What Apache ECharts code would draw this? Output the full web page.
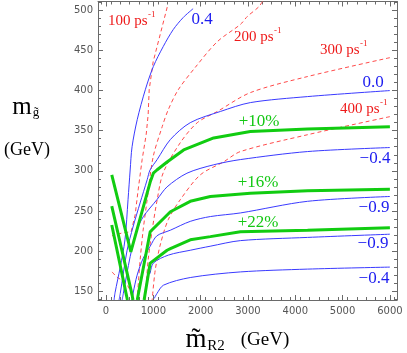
<!DOCTYPE html>
<html><head><meta charset="utf-8">
<script src="https://cdn.jsdelivr.net/npm/echarts@6/dist/echarts.min.js"></script>
<style>html,body{margin:0;padding:0;background:#fff;}#c{width:407px;height:353px;}</style>
</head><body><div id="c"></div>
<script>
// ---- tick labels ----
const xTickLabels = [0, 1000, 2000, 3000, 4000, 5000, 6000];
const yTickLabels = [150, 200, 250, 300, 350, 400, 450, 500];

// ---- blue contours (labelled 0.4, 0.0, -0.4, -0.9, -0.9, -0.4) ----
const blue04  = [[1840,502],[1630,491],[1420,476],[1210,455],[1000,430],[830,401],[660,364],[550,330],[510,301],[465,264],[400,214],[300,180],[190,148],[170,139]];
const blue00  = [[6000,400],[4260,392.5],[3050,385],[2420,374],[1780,360],[1360,339],[1080,314],[930,301],[870,289],[720,260],[570,230],[445,201],[300,147],[275,139]];
const blueM04a = [[6000,329],[4260,324],[2840,314],[2275,307.5],[1710,297],[1290,280],[1075,264],[790,243],[650,226],[510,193],[365,147],[340,139]];
const blueM09a = [[6000,268],[4260,262],[2840,247.5],[2205,243],[1780,237],[1360,226],[1075,219],[933,206],[785,191],[657,170],[572,147.5],[550,139]];
const blueM09b = [[6000,221],[4260,217],[2840,213],[2200,206],[1780,201],[1320,195],[1000,185],[933,172]];
const blueM04b = [[6000,180],[4260,177.5],[2840,174],[1780,167],[1215,157.5],[1075,147],[1020,141]];

// ---- green contours (+10%, +16%, +22%) ----
const green10  = [[6000,355],[4260,352],[3050,349],[2275,341],[1640,326],[1290,311],[1075,301],[1000,297],[933,286],[524,199],[121,295]];
const green16R = [[6000,277],[4260,275],[3050,272],[2205,268],[1780,262],[1360,249],[933,224],[685,147],[660,139]];
const green16L = [[121,256],[545,147],[570,139]];
const green22R = [[6000,229],[4260,226],[2840,224],[2205,218],[1780,214],[1360,203],[1290,201],[933,185],[827,147],[805,139]];
const green22L = [[121,232.5],[424,147],[452,139]];

// ---- red dashed contours (100, 200, 300, 400 ps^-1) ----
const red100  = [[1293,504],[1145,470],[996,436],[912,401],[890,370],[848,345],[763,314],[678,276],[615,245],[530,224],[339,222.5],[127,219]];
const red100b = [[127,174],[233,167.5],[403,161],[509,151],[551,139]];
const red200  = [[3307,511],[3222,504],[2989,492.5],[2841,482.5],[2353,461],[1887,429],[1526,401],[1314,376],[1187,355],[996,317.5],[869,264],[784,226],[721,189],[657,139]];
const red300  = [[6000,441],[4261,417.5],[3053,397.5],[2353,374],[1929,360],[1569,335],[1208,297.5],[1081,264],[975,226],[890,189],[827,139]];
const red400  = [[6000,367.5],[4261,345],[2841,324],[2480,311],[1993,295],[1569,264],[1314,239],[1145,207.5],[1039,176],[975,139]];

// ---- annotation texts ----
const blueLabels  = ['0.4', '0.0', '\u22120.4', '\u22120.9', '\u22120.9', '\u22120.4'];
const greenLabels = ['+10%', '+16%', '+22%'];
const redLabels   = ['100', '200', '300', '400'];

const X_MIN = -170, X_MAX = 6150, Y_MIN = 139, Y_MAX = 511;
const BLUE = '#3a3aff', GREEN = '#11cc11', RED = '#ff4a4a';
const BLUE_T = '#1c1cf0', GREEN_T = '#14c814', RED_T = '#ee1a1a';
const SERIF = '"Liberation Serif","Times New Roman",serif';
const SANS = '"DejaVu Sans",sans-serif';

const minorX = []; for (let v = -100; v <= 6100; v += 200) if (v % 1000 !== 0) minorX.push(v);
const minorY = []; for (let v = 140; v <= 510; v += 10) if (v % 50 !== 0) minorY.push(v);

const gridRect = {left: 98, right: 10, top: 1.5, bottom: 53};
function axis(pos, gi, min, max, ticks, len, labels, line) {
  const isX = pos === 'bottom' || pos === 'top';
  return {
    type: 'value', gridIndex: gi, position: pos, min, max,
    axisLine: {show: line, onZero: false, lineStyle: {color: '#6a6a6a', width: 1}},
    axisTick: {show: true, inside: true, length: len, customValues: ticks, lineStyle: {color: '#6a6a6a', width: 1}},
    axisLabel: labels ? {show: true, customValues: labels, margin: isX ? 6 : 5, fontSize: 10, fontFamily: SANS, color: '#555',
      formatter: v => String(v)} : {show: false},
    splitLine: {show: false}
  };
}

function ln(data, color, width, dashed, smooth) {
  return {type: 'line', data, xAxisIndex: 0, yAxisIndex: 0, symbol: 'none', silent: true,
    clip: true, animation: false, smooth: smooth || false, smoothMonotone: 'none',
    lineStyle: {color, width, type: dashed ? [4, 3] : 'solid', cap: 'butt'}};
}

const series = [
  ln(red100, RED, 1, true), ln(red100b, RED, 1, true, 0.3), ln(red200, RED, 1, true, 0.3),
  ln(red300, RED, 1, true, 0.3), ln(red400, RED, 1, true, 0.3),
  ln(blue04, BLUE, 1, false, 0.3), ln(blue00, BLUE, 1, false, 0.3), ln(blueM04a, BLUE, 1, false, 0.3),
  ln(blueM09a, BLUE, 1, false, 0.3), ln(blueM09b, BLUE, 1, false, 0.3), ln(blueM04b, BLUE, 1, false, 0.3),
  ln(green10, GREEN, 3, false), ln(green16R, GREEN, 3, false), ln(green16L, GREEN, 3, false),
  ln(green22R, GREEN, 3, false), ln(green22L, GREEN, 3, false)
];

const ctx = document.createElement('canvas').getContext('2d');
function tw(text, font) { ctx.font = font; return ctx.measureText(text).width; }

function txt(text, x, y, fill, size, align, family, va) {
  return {type: 'text', x, y, silent: true, z: 100,
    style: {text, fill, font: size + 'px ' + (family || SERIF), align: align || 'center', verticalAlign: va || 'middle'}};
}

const graphics = [];
const bluePos = [[202,20],[373,83],[375,158.5],[374,208],[373,244],[374,279]];
blueLabels.forEach((t, i) => graphics.push(txt(t, bluePos[i][0], bluePos[i][1], BLUE_T, 17, 'center')));
const greenPos = [[259,122],[258,182.5],[258,223]];
greenLabels.forEach((t, i) => graphics.push(txt(t, greenPos[i][0], greenPos[i][1], GREEN_T, 17, 'center')));
const redPos = [[108,21],[234,37],[320,50],[340,109]];
redLabels.forEach((t, i) => {
  const main = t + ' ps';
  const w = tw(main, '15px ' + SERIF);
  graphics.push(txt(main, redPos[i][0], redPos[i][1], RED_T, 15, 'left'));
  graphics.push(txt('-1', redPos[i][0] + w + 0.5, redPos[i][1] - 6, RED_T, 9, 'left'));
});
// y-axis title
graphics.push(txt('m', 22, 107, '#000', 25, 'center'));
graphics.push(txt('g\u0303', 36, 113, '#000', 13, 'center'));
graphics.push(txt('(GeV)', 27, 150, '#000', 18, 'center'));
// x-axis title
graphics.push(txt('m\u0303', 196, 340, '#000', 27, 'center'));
graphics.push(txt('R2', 216, 346, '#000', 15, 'center'));
graphics.push(txt('(GeV)', 265, 340, '#000', 19, 'center'));

const chart = echarts.init(document.getElementById('c'), null, {renderer: 'canvas'});
chart.setOption({
  animation: false,
  backgroundColor: '#fff',
  grid: [Object.assign({}, gridRect), Object.assign({}, gridRect)],
  xAxis: [
    axis('bottom', 0, X_MIN, X_MAX, xTickLabels, 5, xTickLabels, true),
    axis('top', 0, X_MIN, X_MAX, xTickLabels, 5, null, true),
    axis('bottom', 1, X_MIN, X_MAX, minorX, 3, null, false),
    axis('top', 1, X_MIN, X_MAX, minorX, 3, null, false)
  ],
  yAxis: [
    axis('left', 0, Y_MIN, Y_MAX, yTickLabels, 5, yTickLabels, true),
    axis('right', 0, Y_MIN, Y_MAX, yTickLabels, 5, null, true),
    axis('left', 1, Y_MIN, Y_MAX, minorY, 3, null, false),
    axis('right', 1, Y_MIN, Y_MAX, minorY, 3, null, false)
  ],
  series,
  graphic: graphics
});
</script></body></html>
